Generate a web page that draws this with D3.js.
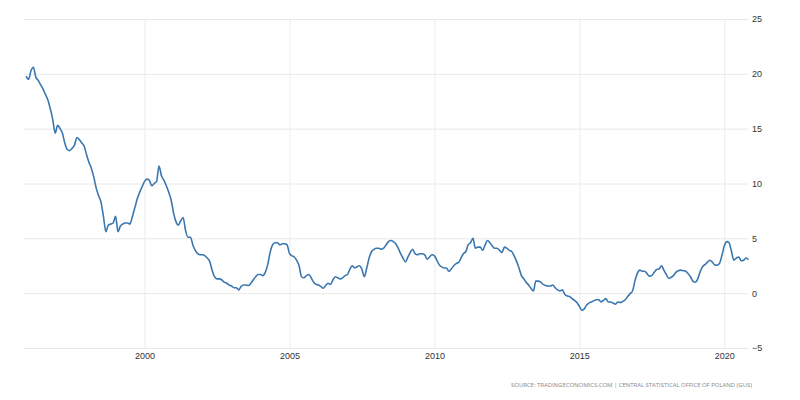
<!DOCTYPE html>
<html>
<head>
<meta charset="utf-8">
<script src="https://cdn.jsdelivr.net/npm/d3@7"></script>
<style>
  body { margin: 0; background: #fff; }
  svg { display: block; font-family: "Open Sans", "DejaVu Sans", sans-serif; }
</style>
</head>
<body>
<svg id="chart" width="800" height="400"></svg>
<script>
// Poland inflation rate, monthly, yoy %. Series starts Dec 1995.
const dec1995 = [19.8];
const y1996 = [19.5, 20.3, 20.6, 19.7, 19.4, 19.0, 18.6, 18.1, 17.6, 16.8, 15.8, 14.6];
const y1997 = [15.3, 15.0, 14.6, 13.7, 13.1, 13.0, 13.2, 13.5, 14.2, 14.0, 13.7, 13.4];
const y1998 = [12.6, 11.9, 11.4, 10.6, 9.6, 8.9, 8.3, 7.0, 5.6, 6.2, 6.3, 6.4];
const y1999 = [7.0, 5.6, 6.1, 6.3, 6.4, 6.4, 6.3, 7.0, 7.8, 8.6, 9.2, 9.7];
const y2000 = [10.2, 10.4, 10.3, 9.8, 10.0, 10.2, 11.6, 10.7, 10.3, 9.8, 9.2, 8.5];
const y2001 = [7.3, 6.5, 6.2, 6.6, 6.9, 5.7, 5.1, 5.1, 4.4, 3.9, 3.6, 3.5];
const y2002 = [3.5, 3.4, 3.2, 2.9, 2.1, 1.5, 1.3, 1.3, 1.2, 1.0, 0.9, 0.75];
const y2003 = [0.65, 0.5, 0.5, 0.3, 0.6, 0.75, 0.75, 0.7, 0.9, 1.2, 1.5, 1.7];
const y2004 = [1.7, 1.6, 1.9, 2.6, 3.7, 4.4, 4.6, 4.6, 4.4, 4.5, 4.5, 4.4];
const y2005 = [3.6, 3.4, 3.3, 3.0, 2.5, 1.5, 1.4, 1.6, 1.7, 1.4, 1.0, 0.8];
const y2006 = [0.75, 0.6, 0.45, 0.7, 0.9, 0.8, 1.2, 1.5, 1.4, 1.3, 1.4, 1.6];
const y2007 = [1.7, 2.2, 2.5, 2.3, 2.4, 2.5, 2.2, 1.5, 2.3, 3.2, 3.8, 4.0];
const y2008 = [4.1, 4.1, 4.0, 4.1, 4.4, 4.7, 4.8, 4.7, 4.5, 4.1, 3.6, 3.2];
const y2009 = [2.85, 3.3, 3.7, 4.0, 3.6, 3.5, 3.6, 3.6, 3.5, 3.1, 3.3, 3.5];
const y2010 = [3.4, 3.0, 2.6, 2.4, 2.3, 2.3, 2.0, 2.2, 2.5, 2.7, 2.8, 3.2];
const y2011 = [3.6, 3.8, 4.4, 4.6, 5.0, 4.1, 4.2, 4.2, 3.9, 4.4, 4.8, 4.6];
const y2012 = [4.3, 4.1, 4.1, 3.9, 3.7, 4.2, 4.1, 3.9, 3.8, 3.4, 2.9, 2.3];
const y2013 = [1.6, 1.3, 1.0, 0.75, 0.45, 0.2, 1.1, 1.1, 1.0, 0.8, 0.7, 0.65];
const y2014 = [0.65, 0.75, 0.5, 0.3, 0.2, 0.3, -0.1, -0.25, -0.3, -0.5, -0.65, -0.85];
const y2015 = [-1.2, -1.55, -1.45, -1.1, -0.9, -0.8, -0.7, -0.6, -0.6, -0.8, -0.65, -0.5];
const y2016 = [-0.8, -0.8, -0.9, -1.0, -0.8, -0.85, -0.75, -0.6, -0.3, -0.05, 0.2, 1.1];
const y2017 = [1.8, 2.1, 2.0, 2.0, 1.8, 1.55, 1.6, 1.9, 2.15, 2.2, 2.5, 2.1];
const y2018 = [1.7, 1.35, 1.45, 1.6, 1.9, 2.05, 2.1, 2.05, 2.0, 1.8, 1.5, 1.1];
const y2019 = [1.0, 1.3, 1.9, 2.4, 2.6, 2.8, 3.0, 2.85, 2.6, 2.55, 2.7, 3.4];
const y2020 = [4.3, 4.7, 4.6, 3.8, 3.0, 3.2, 3.3, 2.95, 3.0, 3.2, 3.05];

const yTicks = [-5, 0, 5, 10, 15, 20, 25];
const xTickYears = [2000, 2005, 2010, 2015, 2020];
const sourceText = "SOURCE: TRADINGECONOMICS.COM | CENTRAL STATISTICAL OFFICE OF POLAND (GUS)";

const values = [].concat(dec1995, y1996, y1997, y1998, y1999, y2000, y2001, y2002,
  y2003, y2004, y2005, y2006, y2007, y2008, y2009, y2010, y2011, y2012, y2013,
  y2014, y2015, y2016, y2017, y2018, y2019, y2020);
const data = values.map((v, i) => ({ date: new Date(1995, 11 + i, 1), value: v }));

const svg = d3.select("#chart");
const plotLeft = 24, plotRight = 748, plotTop = 19, plotBottom = 348;

const x = d3.scaleTime()
    .domain([new Date(1995, 10, 4), new Date(2020, 9, 26)])
    .range([plotLeft, plotRight]);
const y = d3.scaleLinear()
    .domain([-5, 25])
    .range([plotBottom, plotTop]);

// horizontal grid + right labels
const yAxis = svg.append("g")
    .attr("transform", `translate(${plotRight},0)`)
    .call(d3.axisRight(y).tickValues(yTicks).tickSize(-(plotRight - plotLeft)).tickPadding(4));
yAxis.select(".domain").remove();
yAxis.selectAll("line").attr("stroke", "#e8e8e8");
yAxis.selectAll("text").attr("fill", "#333").style("font-size", "9px");

// vertical grid + bottom labels
const xAxis = svg.append("g")
    .attr("transform", `translate(0,${plotBottom})`)
    .call(d3.axisBottom(x)
      .tickValues(xTickYears.map(yr => new Date(yr, 0, 1)))
      .tickFormat(d3.timeFormat("%Y"))
      .tickSize(-(plotBottom - plotTop))
      .tickPadding(5));
xAxis.select(".domain").remove();
xAxis.selectAll("line").attr("stroke", "#ececec");
xAxis.selectAll("text").attr("fill", "#333").style("font-size", "9px");

// the series
const line = d3.line()
    .x(d => x(d.date))
    .y(d => y(d.value))
    .curve(d3.curveMonotoneX);

svg.append("path")
    .datum(data)
    .attr("fill", "none")
    .attr("stroke", "#3a77b0")
    .attr("stroke-width", 1.6)
    .attr("stroke-linejoin", "round")
    .attr("d", line);

// source note, widely tracked like the original
svg.append("text")
    .attr("x", 511)
    .attr("y", 387)
    .attr("textLength", 241)
    .attr("lengthAdjust", "spacing")
    .attr("fill", "#888")
    .style("font-size", "6px")
    .text(sourceText);
</script>
</body>
</html>
